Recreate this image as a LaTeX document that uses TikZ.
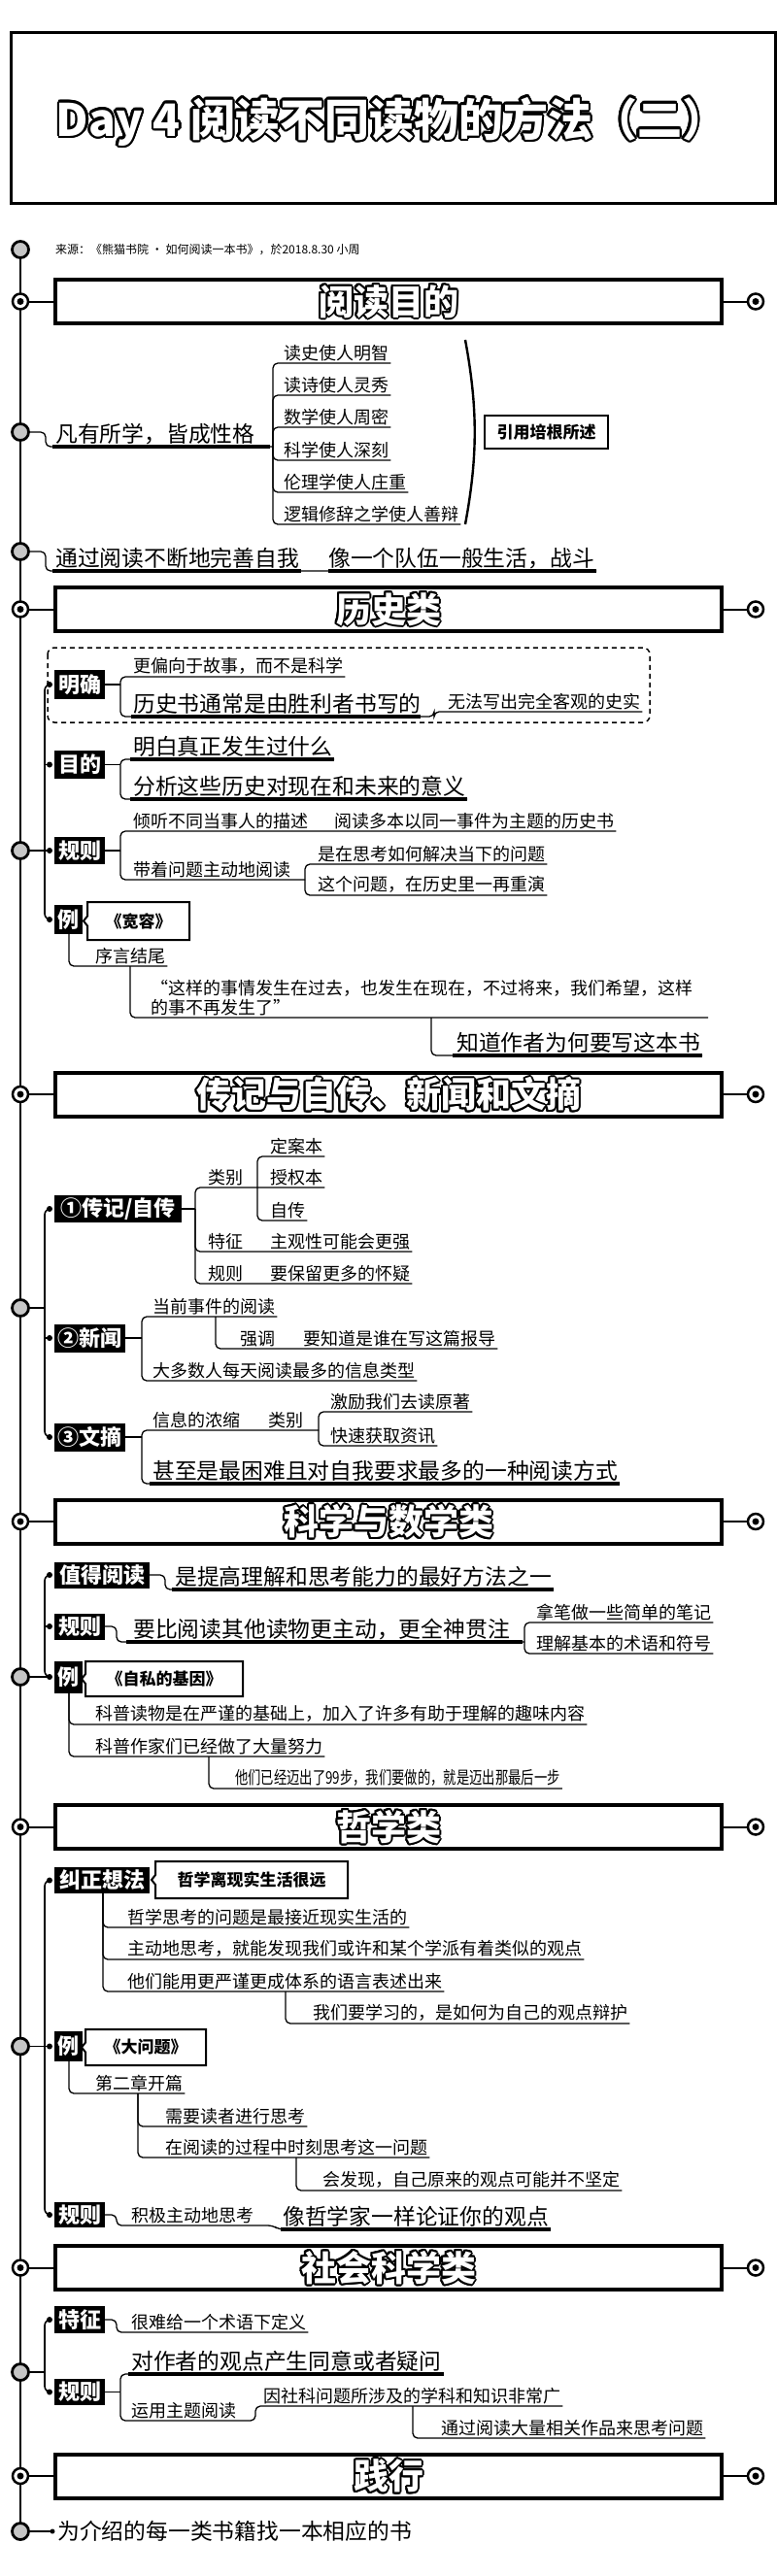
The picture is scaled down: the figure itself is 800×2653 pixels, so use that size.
\documentclass[tikz,border=0pt]{standalone}
\usepackage{fontspec}
\setmainfont{Noto Sans CJK SC}
\usepackage{graphicx}
\usetikzlibrary{calc}
\newcommand\fs[1]{\fontsize{#1pt}{#1pt}\selectfont}
\tikzset{
 ln/.style={line width=1.3pt,rounded corners=5pt},
 ulb/.style={line width=3.2pt},
 txt/.style={anchor=south west,inner sep=0pt,font=\fs{18}},
 txtl/.style={anchor=south west,inner sep=0pt,font=\fs{22.8}},
 lab/.style={fill=black,text=white,inner sep=0pt,font=\bfseries\fs{22}},
 hdr/.style={draw,line width=4pt,inner sep=0pt,minimum width=686pt,minimum height=45pt},
 hcirc/.style={circle,draw,line width=2.5pt,fill=white,minimum size=16pt,inner sep=0pt},
 bcirc/.style={circle,draw,line width=2.8pt,fill=gray!45,minimum size=17pt,inner sep=0pt},
 bdot/.style={circle,fill=black,minimum size=6pt,inner sep=0pt},
 sec/.style={line width=1.6pt,rounded corners=6pt},
 cbox/.style={font=\bfseries\fs{17},inner sep=0pt},
}
% outlined text: black copies around, white text on top
\newcommand\otext[6]{%
 \foreach \a in {0,22.5,...,337.5}{\node[font=#4,text=black,inner sep=0pt] at ($(#2,#3)+(\a:#5)$) {#6};}
 \node[font=#4,text=white,inner sep=0pt] (#1) at (#2,#3) {#6};}
\newcommand\sect[3]{%
 \node[hdr] (#1) at (400,#2) {};
 \otext{#1t}{400}{#2}{\bfseries\fs{36}}{2pt}{#3}
 \node[hcirc] (#1l) at (21,#2) {}; \fill (#1l.center) circle (3.5pt);
 \node[hcirc] (#1r) at (778,#2) {}; \fill (#1r.center) circle (3.5pt);
 \draw[line width=2pt] (#1l) -- (#1.west);
 \draw[line width=2pt] (#1.east) -- (#1r);}
\newcommand\callout[6]{%
 \node[cbox] (#1) at ({(#2+#4)/2},{(#3+#5)/2}) {#6};
 \draw[line width=2pt] (#4,#3) -- (#2,#3) -- (#2,{(#3+#5)/2-5}) -- ({#2-4},{(#3+#5)/2}) -- (#2,{(#3+#5)/2+5}) -- (#2,#5) -- (#4,#5) -- cycle;}
\begin{document}
\begin{tikzpicture}[x=1pt,y=-1pt]
\useasboundingbox (0,0) rectangle (800,2653);
\fill[white] (0,0) rectangle (800,2653);
% main line
\coordinate (mtop) at (21,257);
\coordinate (mbot) at (21,2607);
\draw[line width=2.5pt] (mtop) -- (mbot);
% title
\node[draw,line width=3pt,minimum width=787pt,minimum height=176pt,inner sep=0pt] (tbox) at (404.5,121) {};
\otext{ttl}{403}{125}{\bfseries\fs{46}}{2.5pt}{Day 4 阅读不同读物的方法（二）}
% source
\node[bcirc] (c0) at (mtop) {};
\node[anchor=west,inner sep=0pt,font=\fs{12}] (src) at (57,257) {来源：《熊猫书院 · 如何阅读一本书》，於2018.8.30 小周};

% ===== section 1
\sect{h1}{310.5}{阅读目的}
\node[bcirc] (c1) at (21,445) {};
\node[txtl] (a1) at (57,458) {凡有所学，皆成性格};
\draw[ln] (c1.east) -- (47,445) -- (47,460) -- (281,460);
\draw[ulb] (54,460) -- (278,460);
\node[txt] (a11) at (292,372) {读史使人明智};
\node[txt] (a12) at (292,405) {读诗使人灵秀};
\node[txt] (a13) at (292,438) {数学使人周密};
\node[txt] (a14) at (292,472) {科学使人深刻};
\node[txt] (a15) at (292,505) {伦理学使人庄重};
\node[txt] (a16) at (292,538) {逻辑修辞之学使人善辩};
\foreach \n in {a11,a12,a13,a14,a15,a16}{
 \draw[ln] (281,460) |- ($(\n.south east)+(2,2)$);}
\draw[line width=2.4pt] (479,350) .. controls (492,420) and (492,470) .. (479,540);
\node[draw,line width=2pt,minimum width=127pt,minimum height=34pt,font=\bfseries\fs{17},inner sep=0pt] (yy) at (562.5,445) {引用培根所述};
\node[bcirc] (c2) at (21,568) {};
\node[txtl] (a2) at (57,586) {通过阅读不断地完善自我};
\node[txtl] (a3) at (338,586) {像一个队伍一般生活，战斗};
\draw[ln] (c2.east) -- (47,568) -- (47,588) -- (614,588);
\draw[ulb] (54,588) -- (310,588);
\draw[ulb] (338,588) -- (614,588);

% ===== section 2
\sect{h2}{627.5}{历史类}
\draw[line width=1.5pt,dash pattern=on 5pt off 4pt,rounded corners=7pt] (49,667) rectangle (669,744);
\node[lab,minimum width=52pt,minimum height=30pt] (mq) at (82,705) {明确};
\node[lab,minimum width=52pt,minimum height=29pt] (md) at (82,787.5) {目的};
\node[lab,minimum width=52pt,minimum height=28pt] (gz) at (82,876) {规则};
\node[lab,minimum width=29pt,minimum height=30pt] (l1) at (70.5,947) {例};
\node[bdot] (d21) at (51,705) {};
\node[bdot] (d22) at (51,787.5) {};
\node[bdot] (d23) at (51,876) {};
\node[bdot] (d24) at (51,947) {};
\draw[sec] (d21.center) -- (46,705) -- (46,947) -- (d24.center);
\draw[sec] (46,787.5) -- (d22.center);
\draw[sec] (46,876) -- (d23.center);
\node[bcirc] (c3) at (21,876) {};
\draw[sec] (c3.east) -- (46,876);
% 明确
\draw[ln] (mq.east) -- (124,705);
\node[txt] (b1) at (137,695) {更偏向于故事，而不是科学};
\draw[ln] (124,705) |- ($(b1.south east)+(2,2)$);
\node[txtl] (b2) at (137,736) {历史书通常是由胜利者书写的};
\node[txt] (b3) at (461,731) {无法写出完全客观的史实};
\draw[ln] (124,705) |- (447,738) |- ($(b3.south east)+(2,2)$);
\draw[ulb] (135,738) -- (433,738);
% 目的
\draw[ln] (md.east) -- (124,787.5);
\node[txtl] (b4) at (137,780) {明白真正发生过什么};
\node[txtl] (b5) at (137,821) {分析这些历史对现在和未来的意义};
\draw[ln] (124,787.5) |- (344,782);
\draw[ln] (124,787.5) |- (481,823);
\draw[ulb] (134,782) -- (344,782);
\draw[ulb] (134,823) -- (481,823);
% 规则
\draw[ln] (gz.east) -- (124,876);
\node[txt] (b6) at (137,854) {倾听不同当事人的描述};
\node[txt] (b7) at (344,854) {阅读多本以同一事件为主题的历史书};
\draw[ln] (124,876) |- ($(b7.south east)+(2,2)$);
\node[txt] (b8) at (137,904) {带着问题主动地阅读};
\draw[ln] (124,876) |- (314,906);
\node[txt] (b9) at (327,888) {是在思考如何解决当下的问题};
\node[txt] (b10) at (327,920) {这个问题，在历史里一再重演};
\draw[ln] (314,906) |- ($(b9.south east)+(2,2)$);
\draw[ln] (314,906) |- ($(b10.south east)+(2,2)$);
% 例
\callout{kr}{90}{929}{195}{968}{《宽容》}
\node[txt] (b11) at (98,993) {序言结尾};
\draw[ln] (71,962) |- ($(b11.south east)+(2,2)$);
\node[anchor=south west,inner sep=0pt,font=\fontsize{18pt}{19.5pt}\selectfont,align=left] (b12) at (155,1046) {“这样的事情发生在过去，也发生在现在，不过将来，我们希望，这样\\的事不再发生了”};
\draw[ln] (134,995) |- (729,1048);
\node[txtl] (b13) at (470,1085) {知道作者为何要写这本书};
\draw[ln] (444,1048) |- ($(b13.south east)+(2,2)$);
\draw[ulb] (466,1087) -- ($(b13.south east)+(2,2)$);

% ===== section 3
\sect{h3}{1127}{传记与自传、新闻和文摘}
\node[lab,minimum width=131pt,minimum height=28pt] (z1) at (121.5,1245) {①传记/自传};
\node[lab,minimum width=73pt,minimum height=29pt] (z2) at (92.5,1378) {②新闻};
\node[lab,minimum width=73pt,minimum height=29pt] (z3) at (92.5,1480) {③文摘};
\node[bdot] (d31) at (51,1245) {};
\node[bdot] (d32) at (51,1378) {};
\node[bdot] (d33) at (51,1480) {};
\draw[sec] (d31.center) -- (46,1245) -- (46,1480) -- (d33.center);
\draw[sec] (46,1378) -- (d32.center);
\node[bcirc] (c4) at (21,1347) {};
\draw[sec] (c4.east) -- (46,1347);
% ①
\draw[ln] (z1.east) -- (201,1245);
\node[txt] (e1) at (214,1221) {类别};
\node[txt] (e2) at (278,1189) {定案本};
\node[txt] (e3) at (278,1221) {授权本};
\node[txt] (e4) at (278,1255) {自传};
\draw[ln] (201,1245) |- ($(e3.south east)+(2,2)$);
\draw[ln] (265,1223) |- ($(e2.south east)+(2,2)$);
\draw[ln] (265,1223) |- ($(e4.south east)+(2,2)$);
\node[txt] (e5) at (214,1287) {特征};
\node[txt] (e6) at (278,1287) {主观性可能会更强};
\draw[ln] (201,1245) |- ($(e6.south east)+(2,2)$);
\node[txt] (e7) at (214,1320) {规则};
\node[txt] (e8) at (278,1320) {要保留更多的怀疑};
\draw[ln] (201,1245) |- ($(e8.south east)+(2,2)$);
% ②
\draw[ln] (z2.east) -- (146,1378);
\node[txt] (f1) at (157,1354) {当前事件的阅读};
\draw[ln] (146,1378) |- ($(f1.south east)+(2,2)$);
\node[txt] (f2) at (247,1387) {强调};
\node[txt] (f3) at (312,1387) {要知道是谁在写这篇报导};
\draw[ln] (222,1356) |- ($(f3.south east)+(2,2)$);
\node[txt] (f4) at (157,1420) {大多数人每天阅读最多的信息类型};
\draw[ln] (146,1378) |- ($(f4.south east)+(2,2)$);
% ③
\draw[ln] (z3.east) -- (146,1480);
\node[txt] (g1) at (157,1471) {信息的浓缩};
\node[txt] (g2) at (276,1471) {类别};
\draw[ln] (146,1480) |- (328,1473);
\node[txt] (g3) at (340,1452) {激励我们去读原著};
\node[txt] (g4) at (340,1487) {快速获取资讯};
\draw[ln] (328,1473) |- ($(g3.south east)+(2,2)$);
\draw[ln] (328,1473) |- ($(g4.south east)+(2,2)$);
\node[txtl] (g5) at (157,1526) {甚至是最困难且对自我要求最多的一种阅读方式};
\draw[ln] (146,1480) |- ($(g5.south east)+(2,2)$);
\draw[ulb] (154,1528) -- ($(g5.south east)+(2,2)$);

% ===== section 4
\sect{h4}{1567}{科学与数学类}
\node[lab,minimum width=98pt,minimum height=27pt] (zd) at (105,1622) {值得阅读};
\node[lab,minimum width=52pt,minimum height=27pt] (gz2) at (82,1675) {规则};
\node[lab,minimum width=29pt,minimum height=33pt] (l2) at (70.5,1727) {例};
\node[bdot] (d41) at (51,1622) {};
\node[bdot] (d42) at (51,1675) {};
\node[bdot] (d43) at (51,1727) {};
\draw[sec] (d41.center) -- (46,1622) -- (46,1727) -- (d43.center);
\draw[sec] (46,1675) -- (d42.center);
\node[bcirc] (c5) at (21,1727) {};
\draw[sec] (c5.east) -- (d43.center);
\node[txtl] (k1) at (180,1635) {是提高理解和思考能力的最好方法之一};
\draw[ln] (zd.east) -- (170,1622) -- (170,1637) -- ($(k1.south east)+(2,2)$);
\draw[ulb] (177,1637) -- ($(k1.south east)+(2,2)$);
\node[txtl] (k2) at (137,1689) {要比阅读其他读物更主动，更全神贯注};
\draw[ln] (gz2.east) -- (120,1675) -- (120,1691) -- (540,1691);
\draw[ulb] (130,1691) -- (538,1691);
\node[txt] (k3) at (552,1669) {拿笔做一些简单的笔记};
\node[txt] (k4) at (552,1701) {理解基本的术语和符号};
\draw[ln] (540,1691) |- ($(k3.south east)+(2,2)$);
\draw[ln] (540,1691) |- ($(k4.south east)+(2,2)$);
\callout{zs}{88}{1711}{250}{1747}{《自私的基因》}
\node[txt] (k5) at (98,1774) {科普读物是在严谨的基础上，加入了许多有助于理解的趣味内容};
\node[txt] (k6) at (98,1807) {科普作家们已经做了大量努力};
\draw[ln] (71,1744) |- ($(k5.south east)+(2,2)$);
\draw[ln] (71,1744) |- ($(k6.south east)+(2,2)$);
\node[txt] (k7) at (242,1840) {\scalebox{0.74}[1]{他们已经迈出了99步，我们要做的，就是迈出那最后一步}};
\draw[ln] (215,1809) |- ($(k7.south east)+(2,2)$);

% ===== section 5
\sect{h5}{1881.5}{哲学类}
\node[lab,minimum width=98pt,minimum height=27pt] (jz) at (105,1936.5) {纠正想法};
\node[lab,minimum width=29pt,minimum height=31pt] (l3) at (70.5,2107.5) {例};
\node[lab,minimum width=52pt,minimum height=26pt] (gz3) at (82,2281) {规则};
\node[bdot] (d51) at (51,1936.5) {};
\node[bdot] (d52) at (51,2107.5) {};
\node[bdot] (d53) at (51,2281) {};
\draw[sec] (d51.center) -- (46,1936.5) -- (46,2281) -- (d53.center);
\node[bcirc] (c6) at (21,2107.5) {};
\draw[sec] (c6.east) -- (d52.center);
\callout{zx}{160}{1917}{358}{1955}{哲学离现实生活很远}
\node[txt] (p1) at (131,1983) {哲学思考的问题是最接近现实生活的};
\node[txt] (p2) at (131,2016) {主动地思考，就能发现我们或许和某个学派有着类似的观点};
\node[txt] (p3) at (131,2049) {他们能用更严谨更成体系的语言表述出来};
\draw[ln] (106,1950) |- ($(p1.south east)+(2,2)$);
\draw[ln] (106,1950) |- ($(p2.south east)+(2,2)$);
\draw[ln] (106,1950) |- ($(p3.south east)+(2,2)$);
\node[txt] (p4) at (322,2082) {我们要学习的，是如何为自己的观点辩护};
\draw[ln] (294,2051) |- ($(p4.south east)+(2,2)$);
\callout{dw}{88}{2090}{212}{2127}{《大问题》}
\node[txt] (q1) at (98,2154) {第二章开篇};
\draw[ln] (71,2123) |- ($(q1.south east)+(2,2)$);
\node[txt] (q2) at (170,2188) {需要读者进行思考};
\node[txt] (q3) at (170,2220) {在阅读的过程中时刻思考这一问题};
\draw[ln] (142,2156) |- ($(q2.south east)+(2,2)$);
\draw[ln] (142,2156) |- ($(q3.south east)+(2,2)$);
\node[txt] (q4) at (332,2254) {会发现，自己原来的观点可能并不坚定};
\draw[ln] (305,2222) |- ($(q4.south east)+(2,2)$);
\node[txt] (r1) at (135,2290) {积极主动地思考};
\node[txtl] (r2) at (291,2294) {像哲学家一样论证你的观点};
\draw[ln] (gz3.east) -- (120,2281) -- (120,2292) -- (281,2292) -- (287,2296) -- ($(r2.south east)+(2,2)$);
\draw[ulb] (289,2296) -- ($(r2.south east)+(2,2)$);

% ===== section 6
\sect{h6}{2335.5}{社会科学类}
\node[lab,minimum width=52pt,minimum height=28pt] (tz) at (82,2389) {特征};
\node[lab,minimum width=52pt,minimum height=27pt] (gz4) at (82,2463.5) {规则};
\node[bdot] (d61) at (51,2389) {};
\node[bdot] (d62) at (51,2463.5) {};
\draw[sec] (d61.center) -- (46,2389) -- (46,2463.5) -- (d62.center);
\node[bcirc] (c7) at (21,2443) {};
\draw[sec] (c7.east) -- (46,2443);
\node[txt] (s1) at (135,2400) {很难给一个术语下定义};
\draw[ln] (tz.east) -- (120,2389) -- (120,2402) -- ($(s1.south east)+(2,2)$);
\draw[ln] (gz4.east) -- (124,2463.5);
\node[txtl] (s2) at (135,2443) {对作者的观点产生同意或者疑问};
\draw[ln] (124,2463.5) |- ($(s2.south east)+(2,2)$);
\draw[ulb] (132,2445) -- ($(s2.south east)+(2,2)$);
\node[txt] (s3) at (135,2491) {运用主题阅读};
\node[txt] (s4) at (271,2476) {因社科问题所涉及的学科和知识非常广};
\draw[ln] (124,2463.5) |- (263,2493) |- ($(s4.south east)+(2,2)$);
\node[txt] (s5) at (454,2509) {通过阅读大量相关作品来思考问题};
\draw[ln] (425,2478) |- ($(s5.south east)+(2,2)$);

% ===== section 7
\sect{h7}{2550}{践行}
\node[bcirc] (c8) at (mbot) {};
\node[bdot,minimum size=5pt] (dl) at (54,2607) {};
\draw[ln] (c8.east) -- (dl.center);
\node[anchor=west,inner sep=0pt,font=\fs{22.8}] (last) at (59,2607) {为介绍的每一类书籍找一本相应的书};
\end{tikzpicture}
\end{document}
